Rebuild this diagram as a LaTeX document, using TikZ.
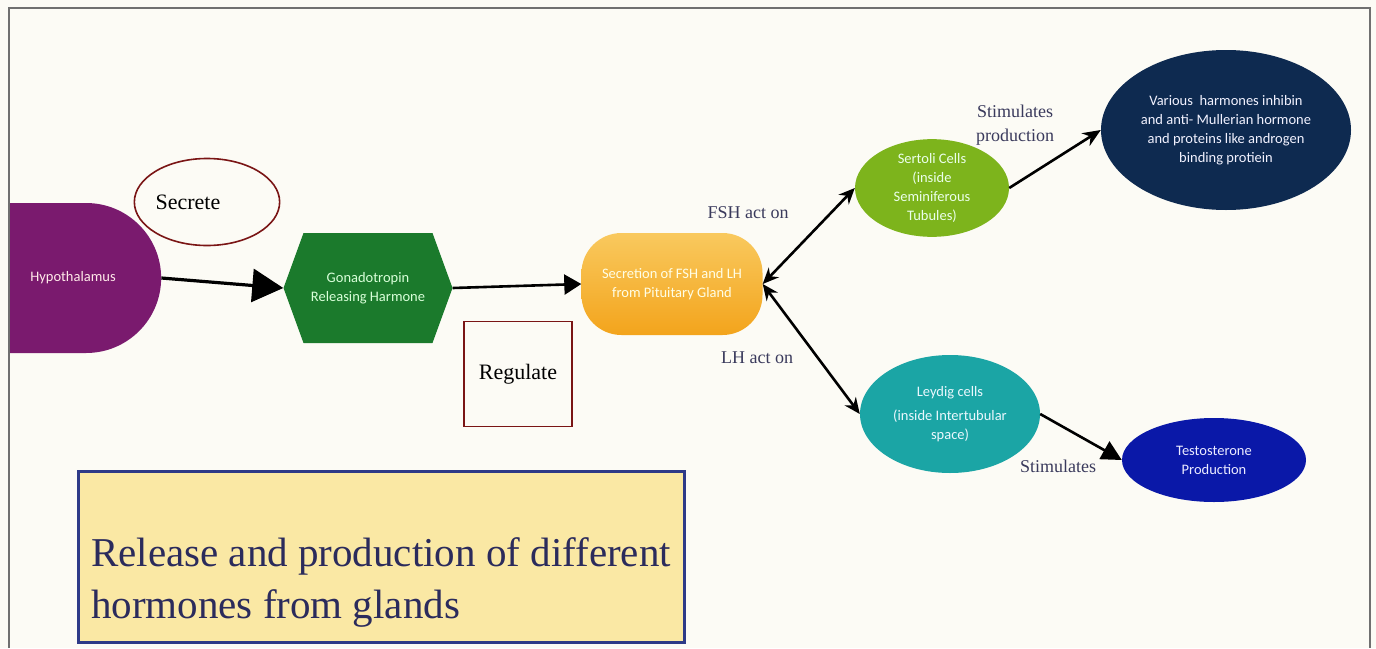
\documentclass[tikz,border=0pt]{standalone}
\usepackage{fontspec}
\setmainfont{Liberation Serif}
\newfontfamily\calib{Carlito}
\usetikzlibrary{shapes.geometric,shapes.misc,shapes.symbols,arrows.meta}
\definecolor{paper}{HTML}{FCFBF5}
\definecolor{framegray}{HTML}{707070}
\definecolor{hypopurple}{HTML}{7A1A6E}
\definecolor{gnrhgreen}{HTML}{1B7A2C}
\definecolor{pittop}{HTML}{F9C95E}
\definecolor{pitbot}{HTML}{F3A41C}
\definecolor{sertgreen}{HTML}{7DB41C}
\definecolor{varnavy}{HTML}{0E2A50}
\definecolor{leydteal}{HTML}{1BA5A5}
\definecolor{testblue}{HTML}{0A18A8}
\definecolor{maroon}{HTML}{7A1515}
\definecolor{tagcol}{HTML}{3A3A5C}
\definecolor{titlefill}{HTML}{FAE8A4}
\definecolor{titleline}{HTML}{2E3A87}
\definecolor{titletext}{HTML}{2B2B5C}
\begin{document}
\begin{tikzpicture}[x=1pt,y=-1pt,
  blob/.style={inner sep=0pt, align=center, font=\calib\fontsize{14.5}{19}\selectfont},
  tag/.style={inner sep=0pt, align=center, text=tagcol, font=\fontsize{18}{24}\selectfont},
  word/.style={draw=maroon, line width=1.6pt, inner sep=0pt, font=\fontsize{22}{26}\selectfont},
  link/.style={line width=2.6pt}]
\useasboundingbox (0,0) rectangle (1376,648);
\fill[paper] (0,0) rectangle (1376,648);
\draw[framegray, line width=1.5pt] (9,648) -- (9,8) -- (1370,8) -- (1370,648);

% main chain
\begin{scope}
\clip (10,0) rectangle (1376,648);
\node[blob, rounded rectangle, rounded rectangle west arc=none, fill=hypopurple, text={pink!35},
  minimum width=176, minimum height=150] (hypo) at (73,278) {Hypothalamus};
\end{scope}
\node[blob, signal, signal to=east and west, signal pointer angle=140, fill=gnrhgreen, text={green!15},
  minimum width=169, minimum height=110] (gnrh) at (368,288) {Gonadotropin\\Releasing Harmone};
\node[blob, rectangle, rounded corners=40pt, top color=pittop, bottom color=pitbot, text={yellow!10},
  minimum width=181, minimum height=102] (pit) at (672,284) {Secretion of FSH and LH\\from Pituitary Gland};

% target cells
\node[blob, ellipse, fill=sertgreen, text={green!8}, minimum width=154, minimum height=90] (sert) at (932,188)
  {Sertoli Cells\\(inside\\Seminiferous\\Tubules)};
\node[blob, ellipse, fill=varnavy, text={blue!5}, minimum width=250, minimum height=160] (various) at (1226,130)
  {Various\ \ harmones inhibin\\and anti- Mullerian hormone\\and proteins like androgen\\binding protiein};
\node[blob, ellipse, fill=leydteal, text={cyan!8}, minimum width=180, minimum height=118] (leyd) at (950,414)
  {Leydig cells\\[5pt](inside Intertubular\\space)};
\node[blob, ellipse, fill=testblue, text={blue!8}, minimum width=184, minimum height=84] (testo) at (1214,460)
  {Testosterone\\Production};

% word labels
\node[word, ellipse, minimum width=137, minimum height=87] (secrete) at (207,202) {Secrete\hspace*{38pt}};
\node[word, rectangle, minimum width=108, minimum height=105] (regulate) at (518,374) {Regulate};
\node[tag] (fshtag) at (748,213) {FSH act on};
\node[tag] (lhtag) at (757,358) {LH act on};
\node[tag] (stimprod) at (1015,125) {Stimulates\\production};
\node[tag] (stimtag) at (1058,466) {Stimulates};

\node[rectangle, draw=titleline, line width=3pt, fill=titlefill, text=titletext, align=left,
  minimum width=606, minimum height=171, inner sep=0pt, font=\fontsize{41}{52}\selectfont] (title) at (381,557)
  {\rule{0pt}{80pt}Release and production of different\\hormones from glands};

\draw[link, line width=3.2pt, -{Triangle[length=31pt,width=33pt]}] (hypo.east) -- (gnrh.west);
\draw[link, -{Triangle[length=17pt,width=20pt]}] (gnrh.east) -- (pit.west);
\draw[link, {Stealth[length=16pt,width=14pt]}-{Stealth[length=16pt,width=14pt]}] (pit.east) -- (sert.west);
\draw[link, {Stealth[length=16pt,width=14pt]}-{Stealth[length=16pt,width=14pt]}] (pit.east) -- (leyd.west);
\draw[link, -{Stealth[length=18pt,width=15pt]}] (sert.east) -- (various.west);
\draw[link, -{Triangle[length=20pt,width=20pt]}] (leyd.east) -- (testo.west);
\end{tikzpicture}
\end{document}
